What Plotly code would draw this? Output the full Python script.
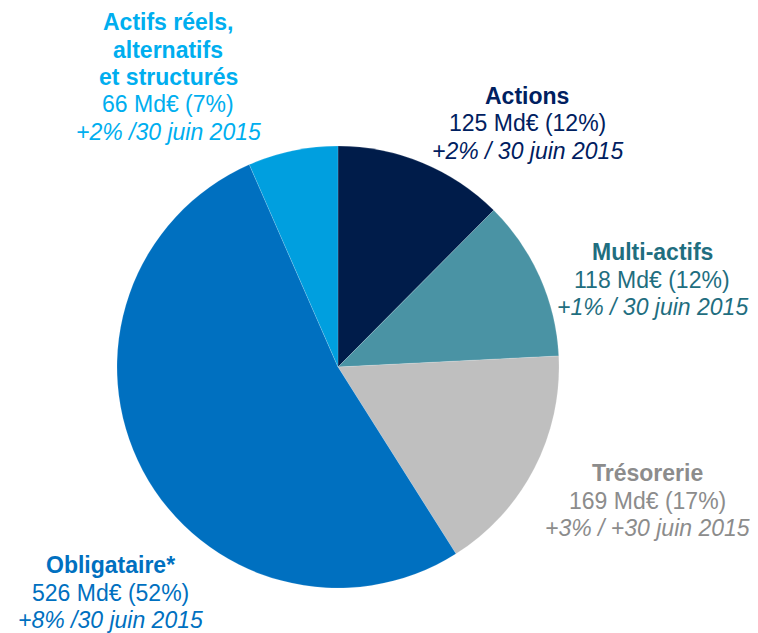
import plotly.graph_objects as go

categories = ["Actions", "Multi-actifs", "Trésorerie", "Obligataire*", "Actifs réels, alternatifs et structurés"]
values = [125, 118, 169, 526, 66]
shares = ["12%", "12%", "17%", "52%", "7%"]
changes = ["+2% / 30 juin 2015", "+1% / 30 juin 2015", "+3% / +30 juin 2015", "+8% /30 juin 2015", "+2% /30 juin 2015"]
title_lines = [["Actions"], ["Multi-actifs"], ["Trésorerie"], ["Obligataire*"],
               ["Actifs réels,", "alternatifs", "et structurés"]]
slice_colors = ["#001C4A", "#4A93A4", "#BFBFBF", "#0070C0", "#009FDF"]
text_colors = ["#002060", "#1F6E80", "#8C8C8C", "#0070C0", "#00AEEF"]

OFF = 8  # page body margin
W, H = 758 - OFF, 633 - OFF


def px(x):
    return (x - OFF) / W


def py(y):
    return 1 - (y - OFF) / H


fig = go.Figure(go.Pie(
    labels=categories, values=values, sort=False, direction="clockwise", rotation=0,
    marker=dict(colors=slice_colors, line=dict(color="rgba(255,255,255,0.3)", width=0.5)),
    textinfo="none", hoverinfo="label+value", showlegend=False,
    domain=dict(x=[px(117), px(559)], y=[py(588), py(146)]),
))

# label block: centre x and y of the first line (pixels)
pos = [(527, 96), (652, 252), (647, 473), (110, 565), (168, 22)]
STEP = 27.5
for i in range(len(categories)):
    x, y0 = pos[i]
    lines = [f"<b>{t}</b>" for t in title_lines[i]] + [f"{values[i]} Md€ ({shares[i]})", f"<i>{changes[i]}</i>"]
    for k, txt in enumerate(lines):
        fig.add_annotation(x=px(x), y=py(y0 + k * STEP), xref="paper", yref="paper", text=txt,
                           showarrow=False, xanchor="center", yanchor="middle", align="center",
                           borderpad=0,
                           font=dict(family="Liberation Sans, Arial", size=23, color=text_colors[i]))

fig.update_layout(width=W, height=H, margin=dict(l=0, r=0, t=0, b=0),
                  paper_bgcolor="white", plot_bgcolor="white")
fig.write_html("out.html")
